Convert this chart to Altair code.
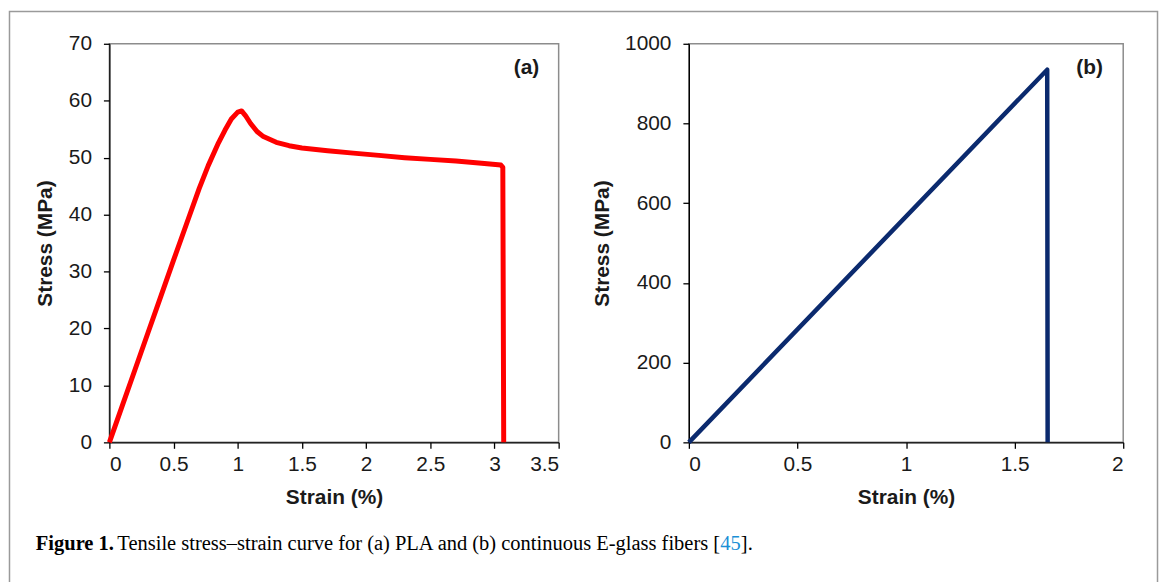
import altair as alt
import pandas as pd

# ---- data ----
pla_strain = [0, 0.1, 0.2, 0.3, 0.4, 0.5, 0.6, 0.7, 0.77, 0.85, 0.9, 0.95, 1.0, 1.03, 1.06,
              1.1, 1.15, 1.2, 1.3, 1.4, 1.5, 1.7, 1.9, 2.1, 2.3, 2.5, 2.7, 2.9, 3.05, 3.065, 3.072]
pla_stress = [0, 6.4, 12.8, 19.2, 25.6, 32.0, 38.3, 44.6, 48.6, 52.6, 54.8, 56.8, 58.0, 58.2, 57.4,
              56.0, 54.6, 53.7, 52.7, 52.1, 51.7, 51.2, 50.8, 50.4, 50.0, 49.7, 49.4, 49.0, 48.7, 48.3, 0]

glass_strain = [0, 1.65, 1.652]
glass_stress = [0, 935, 0]

a_x_ticks = [0, 0.5, 1, 1.5, 2, 2.5, 3, 3.5]
a_y_ticks = [0, 10, 20, 30, 40, 50, 60, 70]
b_x_ticks = [0, 0.5, 1, 1.5, 2]
b_y_ticks = [0, 200, 400, 600, 800, 1000]

x_title = "Strain (%)"
y_title = "Stress (MPa)"
panel_labels = ["(a)", "(b)"]
caption_bold = "Figure 1."
caption_text = "Tensile stress\u2013strain curve for (a) PLA and (b) continuous E-glass fibers ["
caption_ref = "45"
caption_end = "]."

df_a = pd.DataFrame({"strain": pla_strain, "stress": pla_stress, "i": range(len(pla_strain))})
df_b = pd.DataFrame({"strain": glass_strain, "stress": glass_stress, "i": range(len(glass_strain))})

W_A, W_B, H = 452, 437, 401
FONT = "Liberation Sans"
SERIF = "Liberation Serif"

axis_common = dict(
    grid=False, domainColor="black", domainWidth=1.3, tickColor="black", tickWidth=1.3,
    tickSize=6, labelFont=FONT, labelFontSize=21, labelColor="#1a1a1a",
    titleFont=FONT, titleFontSize=21, titleFontWeight="bold", titleColor="#1a1a1a",
    labelExpr="toString(datum.value)",
)


def x_axis(vals):
    return alt.Axis(values=vals, labelPadding=5, titleY=56, titleBaseline="middle",
                    titleAlign="center", **axis_common)


def y_axis(vals, title_x):
    return alt.Axis(values=vals, labelPadding=12, titleX=title_x, titleY=H / 2,
                    titleAngle=270, titleBaseline="middle", titleAlign="center", **axis_common)


one = pd.DataFrame({"k": [0]})

# ---- panel (a) ----
line_a = alt.Chart(df_a).mark_line(color="#ff0000", strokeWidth=5, strokeJoin="round").encode(
    x=alt.X("strain:Q", scale=alt.Scale(domain=[0, 3.5], nice=False), axis=x_axis(a_x_ticks), title=x_title),
    y=alt.Y("stress:Q", scale=alt.Scale(domain=[0, 70], nice=False), axis=y_axis(a_y_ticks, -64), title=y_title),
    order="i:Q",
)
lab_a = alt.Chart(pd.DataFrame({"t": [panel_labels[0]], "x": [3.25], "y": [65.8]})).mark_text(
    font=FONT, fontSize=21, fontWeight="bold", color="#1a1a1a", align="center", baseline="middle"
).encode(x="x:Q", y="y:Q", text="t:N")

frame = alt.Chart(one).mark_rect(filled=False, stroke="#9a9a9a", strokeWidth=1.5).encode(
    x=alt.value(-100.5), x2=alt.value(1054.5), y=alt.value(-32.5), y2=alt.value(620)
)

cap_y = 509
CAP_FS = 20.6
cap1 = alt.Chart(one).mark_text(font=SERIF, fontSize=CAP_FS, fontWeight="bold", color="black",
                                align="left", baseline="alphabetic").encode(
    x=alt.value(-74), y=alt.value(cap_y), text=alt.value(caption_bold))
cap2 = alt.Chart(one).mark_text(font=SERIF, fontSize=CAP_FS, color="black",
                                align="left", baseline="alphabetic").encode(
    x=alt.value(8), y=alt.value(cap_y), text=alt.value(caption_text))
cap3 = alt.Chart(one).mark_text(font=SERIF, fontSize=CAP_FS, color="#1a8fd6",
                                align="left", baseline="alphabetic").encode(
    x=alt.value(614.5), y=alt.value(cap_y), text=alt.value(caption_ref))
cap4 = alt.Chart(one).mark_text(font=SERIF, fontSize=CAP_FS, color="black",
                                align="left", baseline="alphabetic").encode(
    x=alt.value(635.3), y=alt.value(cap_y), text=alt.value(caption_end))

panel_a = alt.layer(frame, line_a, lab_a, cap1, cap2, cap3, cap4).properties(width=W_A, height=H)

# ---- panel (b) ----
line_b = alt.Chart(df_b).mark_line(color="#0b2a6e", strokeWidth=4.5, strokeJoin="round").encode(
    x=alt.X("strain:Q", scale=alt.Scale(domain=[0, 2], nice=False), axis=x_axis(b_x_ticks), title=x_title),
    y=alt.Y("stress:Q", scale=alt.Scale(domain=[0, 1000], nice=False), axis=y_axis(b_y_ticks, -87), title=y_title),
    order="i:Q",
)
lab_b = alt.Chart(pd.DataFrame({"t": [panel_labels[1]], "x": [1.845], "y": [940]})).mark_text(
    font=FONT, fontSize=21, fontWeight="bold", color="#1a1a1a", align="center", baseline="middle"
).encode(x="x:Q", y="y:Q", text="t:N")

panel_b = alt.layer(line_b, lab_b).properties(width=W_B, height=H)

chart = alt.hconcat(panel_a, panel_b, spacing=131, bounds="flush").resolve_scale(
    x="independent", y="independent"
).properties(padding=0, background="white").configure_view(
    stroke="#8c8c8c", strokeWidth=1.5
)

chart.save("out.html", embed_options={"renderer": "svg", "actions": False})
